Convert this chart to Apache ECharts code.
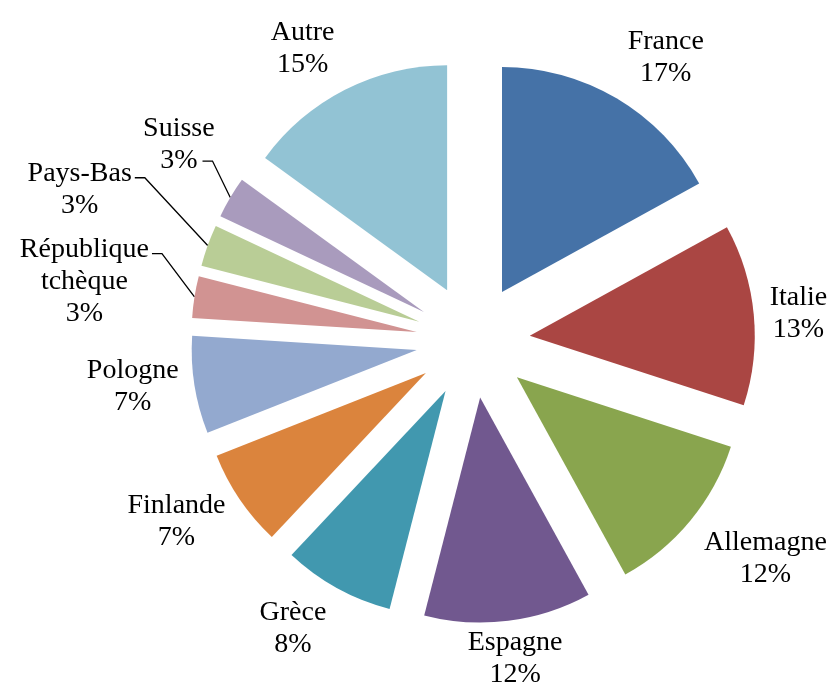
<!DOCTYPE html>
<html>
<head>
<meta charset="utf-8">
<script src="https://cdn.jsdelivr.net/npm/echarts@6/dist/echarts.min.js"></script>
<style>
  html, body { margin: 0; padding: 0; background: #fff; }
  #chart { width: 834px; height: 684px; }
</style>
</head>
<body>
<div id="chart"></div>
<script>
// pays et parts (%)
const countries = ['France', 'Italie', 'Allemagne', 'Espagne', 'Grèce', 'Finlande',
  'Pologne', 'République tchèque', 'Pays-Bas', 'Suisse', 'Autre'];
const shares = [17, 13, 12, 12, 8, 7, 7, 3, 3, 3, 15];
const colors = ['#4572A7', '#AA4643', '#89A54E', '#71588F', '#4198AF', '#DB843D',
  '#93A9CF', '#D19392', '#B9CD96', '#A99BBD', '#92C3D4'];

// per-label tweaks; the small slices get their label pulled away with a leader line
const labelStyle = {
  'Espagne': { length: 6 },
  'Finlande': { padding: [34, 0, 0, 0] },
  'République tchèque': { length: 40, padding: [0, 0, 18, 0],
    leader: { align: 'right', verticalAlign: 'middle', lineAt: 'top' } },
  'Pays-Bas': { length: 70, length2: 5,
    leader: { align: 'right', verticalAlign: 'bottom', lineAt: 'top' } },
  'Suisse': { length: 40, length2: 12,
    leader: { align: 'center', verticalAlign: 'bottom', lineAt: 'bottom' } }
};

const EXPLODE = 57;
const FONT = 'Liberation Serif';
const FONT_SIZE = 28;

const measure = document.createElement('canvas').getContext('2d');
measure.font = FONT_SIZE + 'px "' + FONT + '"';

// excel-like: the label box hangs off the slice on the side its mid angle points to
function placeLabel(params) {
  const pts = params.labelLinePoints;
  if (!pts) return {};
  const vx = pts[1][0] - pts[0][0], vy = pts[1][1] - pts[0][1];
  const len = Math.hypot(vx, vy) || 1;
  const ux = vx / len, uy = vy / len;
  const st = labelStyle[countries[params.dataIndex]] || {};
  const lead = st.leader;
  const align = lead ? lead.align : (ux > 0.3 ? 'left' : ux < -0.3 ? 'right' : 'center');
  const va = lead ? lead.verticalAlign : (uy > 0.6 ? 'top' : uy < -0.6 ? 'bottom' : 'middle');
  const out = { align: align, verticalAlign: va };
  const p0 = pts[0];
  if (!lead) {
    out.labelLinePoints = [[p0[0], p0[1]], [p0[0], p0[1]], [p0[0], p0[1]]];
    return out;
  }
  const w = params.labelRect.width, h = params.labelRect.height;
  const ax = pts[2][0] + (ux < 0 ? -5 : 5), ay = pts[2][1];
  const right = align === 'right' ? ax : align === 'left' ? ax + w : ax + w / 2;
  const top = va === 'bottom' ? ay - h : va === 'top' ? ay : ay - h / 2;
  let lx, ly;
  if (lead.lineAt === 'bottom') {
    // end of the percentage line, which is centred in the box
    const pct = measure.measureText(shares[params.dataIndex] + '%').width;
    lx = right - w / 2 + pct / 2 + 5;
    ly = top + h - 16;
  } else {
    lx = right + 3;
    ly = top + 20;
  }
  out.labelLinePoints = [[p0[0], p0[1]], [lx + 10, ly], [lx, ly]];
  return out;
}

const chart = echarts.init(document.getElementById('chart'));
chart.setOption({
  backgroundColor: '#fff',
  animation: false,
  series: [{
    type: 'pie',
    center: [473, 341],
    radius: 225,
    startAngle: 90,
    clockwise: true,
    silent: true,
    selectedMode: 'multiple',
    selectedOffset: EXPLODE,
    avoidLabelOverlap: false,
    percentPrecision: 0,
    data: countries.map((n, i) => {
      const st = labelStyle[n] || {};
      return {
        name: n,
        value: shares[i],
        selected: true,
        itemStyle: { color: colors[i] },
        label: { padding: st.padding || 0 },
        labelLine: { length: st.length || 10, length2: st.length2 || 1 }
      };
    }),
    label: {
      show: true,
      position: 'outside',
      formatter: p => {
        const name = p.name.length > 12 ? p.name.replace(' ', '}\n{c|') : p.name;
        return '{c|' + name + '}\n{c|' + p.percent + '%}';
      },
      fontFamily: FONT,
      fontSize: FONT_SIZE,
      lineHeight: 32,
      color: '#000',
      rich: {
        c: { align: 'center', fontFamily: FONT, fontSize: FONT_SIZE, lineHeight: 32, color: '#000' }
      }
    },
    labelLine: {
      show: true,
      lineStyle: { color: '#000', width: 1.3 }
    },
    labelLayout: placeLabel
  }]
});
</script>
</body>
</html>
